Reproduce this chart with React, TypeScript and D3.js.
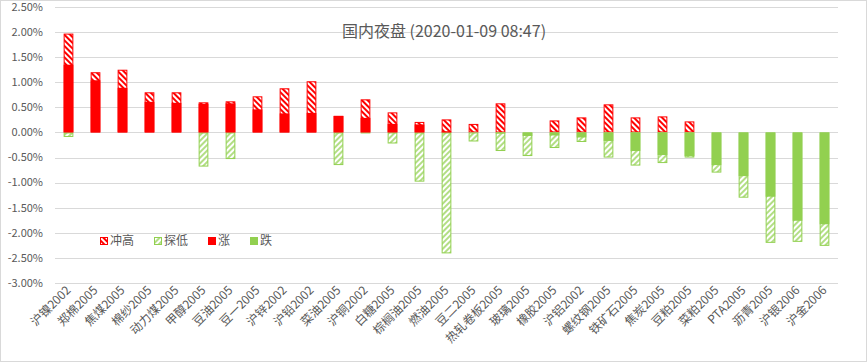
import React from 'react';
import * as d3 from 'd3';

// instruments on the x axis
const categories = [
  '沪镍2002', '郑棉2005', '焦煤2005', '棉纱2005', '动力煤2005', '甲醇2005', '豆油2005', '豆一2005',
  '沪锌2002', '沪铅2002', '菜油2005', '沪铜2002', '白糖2005', '棕榈油2005', '燃油2005', '豆二2005',
  '热轧卷板2005', '玻璃2005', '橡胶2005', '沪铝2002', '螺纹钢2005', '铁矿石2005', '焦炭2005', '豆粕2005',
  '菜粕2005', 'PTA2005', '沥青2005', '沪银2006', '沪金2006',
];

// session high, % (冲高)
const highValues = [
  1.97, 1.20, 1.25, 0.80, 0.80, 0.60, 0.62, 0.72, 0.88, 1.02, 0.33, 0.66, 0.40, 0.21, 0.26, 0.17,
  0.58, 0, 0.24, 0.30, 0.56, 0.30, 0.32, 0.22, 0, 0, 0, 0, 0,
];

// session low, % (探低)
const lowValues = [
  -0.09, 0, 0, 0, 0, -0.68, -0.53, 0, 0, 0, -0.65, -0.02, -0.22, -0.98, -2.41, -0.18,
  -0.37, -0.47, -0.31, -0.19, -0.50, -0.66, -0.61, -0.50, -0.80, -1.30, -2.20, -2.18, -2.26,
];

// current change, % (涨 / 跌)
const changeValues = [
  1.35, 1.04, 0.89, 0.61, 0.59, 0.57, 0.58, 0.46, 0.38, 0.39, 0.33, 0.29, 0.17, 0.16, 0.02, 0,
  -0.02, -0.07, -0.06, -0.10, -0.17, -0.37, -0.45, -0.47, -0.65, -0.87, -1.28, -1.76, -1.83,
];

const yTicks = [2.5, 2.0, 1.5, 1.0, 0.5, 0, -0.5, -1.0, -1.5, -2.0, -2.5, -3.0];

const legendItems = [
  { label: '冲高', kind: 'highHatch' },
  { label: '探低', kind: 'lowHatch' },
  { label: '涨', kind: 'up' },
  { label: '跌', kind: 'down' },
];

const RED = '#FF0000';
const GREEN = '#92D050';
const TEXT = '#595959';
const GRID = '#D9D9D9';
const FONT = '"Noto Sans CJK SC", "Noto Sans", sans-serif';

export default function App() {
  let width = 867;
  let height = 362;
  let plotLeft = 55;
  let plotRight = 838;

  let x = d3.scaleBand()
    .domain(categories)
    .range([plotLeft, plotRight])
    .paddingInner(0.64)
    .paddingOuter(0.32);

  let y = d3.scaleLinear().domain([-3, 2.5]).range([283, 7]);

  let bw = x.bandwidth();
  let fmt = (v) => v.toFixed(2) + '%';

  // rect between 0 and v
  let span = (v) => ({ y: Math.min(y(0), y(v)), h: Math.abs(y(v) - y(0)) });

  let legendX = [104, 158, 212, 254];
  let legendY = 241;

  return (
    <svg width={width} height={height} style={{ position: 'absolute', left: 0, top: 0, background: '#fff' }}>
      <defs>
        <pattern id="hatchRed" width="4" height="4" patternUnits="userSpaceOnUse" patternTransform="rotate(-45)">
          <rect width="4" height="4" fill="#fff" />
          <line x1="1" y1="0" x2="1" y2="4" stroke={RED} strokeWidth="2" />
        </pattern>
        <pattern id="hatchGreen" width="4" height="4" patternUnits="userSpaceOnUse" patternTransform="rotate(45)">
          <rect width="4" height="4" fill="#fff" />
          <line x1="1" y1="0" x2="1" y2="4" stroke={GREEN} strokeWidth="1.4" />
        </pattern>
      </defs>

      <rect x={0.5} y={0.5} width={width - 1} height={height - 1} fill="#fff" stroke={GRID} />

      {/* gridlines + y labels */}
      <g className="y-axis">
        {yTicks.map((t) => (
          <g key={'tick-' + t}>
            <line x1={plotLeft} x2={plotRight} y1={Math.round(y(t)) + 0.5} y2={Math.round(y(t)) + 0.5} stroke={GRID} />
            <text x={43} y={y(t)} dy="0.35em" textAnchor="end" fontSize={11} fill={TEXT} fontFamily={FONT}>
              {fmt(t)}
            </text>
          </g>
        ))}
      </g>

      <text x={444} y={37} textAnchor="middle" fontSize={16} fill={TEXT} fontFamily={FONT}>
        国内夜盘 (2020-01-09 08:47)
      </text>

      {/* bars: hatched extremes first, solid change on top */}
      <g className="bars">
        {categories.map((c, i) => {
          let bx = x(c);
          let hi = span(highValues[i]);
          let lo = span(lowValues[i]);
          let ch = span(changeValues[i]);
          return (
            <g key={'bar-' + c}>
              {highValues[i] > 0 && (
                <rect x={bx + 0.5} y={hi.y + 0.5} width={bw - 1} height={Math.max(hi.h - 1, 0)}
                  fill="url(#hatchRed)" stroke={RED} strokeWidth={1} />
              )}
              {lowValues[i] < 0 && (
                <rect x={bx + 0.5} y={lo.y + 0.5} width={bw - 1} height={Math.max(lo.h - 1, 0)}
                  fill="url(#hatchGreen)" stroke={GREEN} strokeWidth={1} />
              )}
              {changeValues[i] !== 0 && (
                <rect x={bx} y={ch.y} width={bw} height={ch.h}
                  fill={changeValues[i] > 0 ? RED : GREEN} />
              )}
            </g>
          );
        })}
      </g>

      {/* rotated category labels */}
      <g className="x-axis">
        {categories.map((c) => {
          let cx = x(c) + bw / 2 + 3;
          let cy = 291;
          return (
            <text key={'lab-' + c} transform={'translate(' + cx + ',' + cy + ') rotate(-45)'}
              textAnchor="end" fontSize={12} fill={TEXT} fontFamily={FONT}>
              {c}
            </text>
          );
        })}
      </g>

      {/* legend */}
      <g className="legend">
        {legendItems.map((d, i) => {
          let lx = legendX[i];
          let marker;
          if (d.kind === 'highHatch') {
            marker = <rect x={lx - 3.5} y={legendY - 3.5} width={7} height={7} fill="url(#hatchRed)" stroke={RED} />;
          } else if (d.kind === 'lowHatch') {
            marker = <rect x={lx - 3.5} y={legendY - 3.5} width={7} height={7} fill="url(#hatchGreen)" stroke={GREEN} />;
          } else {
            marker = <rect x={lx - 4} y={legendY - 4} width={8} height={8} fill={d.kind === 'up' ? RED : GREEN} />;
          }
          return (
            <g key={'leg-' + d.label}>
              {marker}
              <text x={lx + 6} y={legendY} dy="0.35em" fontSize={12} fill={TEXT} fontFamily={FONT}>{d.label}</text>
            </g>
          );
        })}
      </g>
    </svg>
  );
}
